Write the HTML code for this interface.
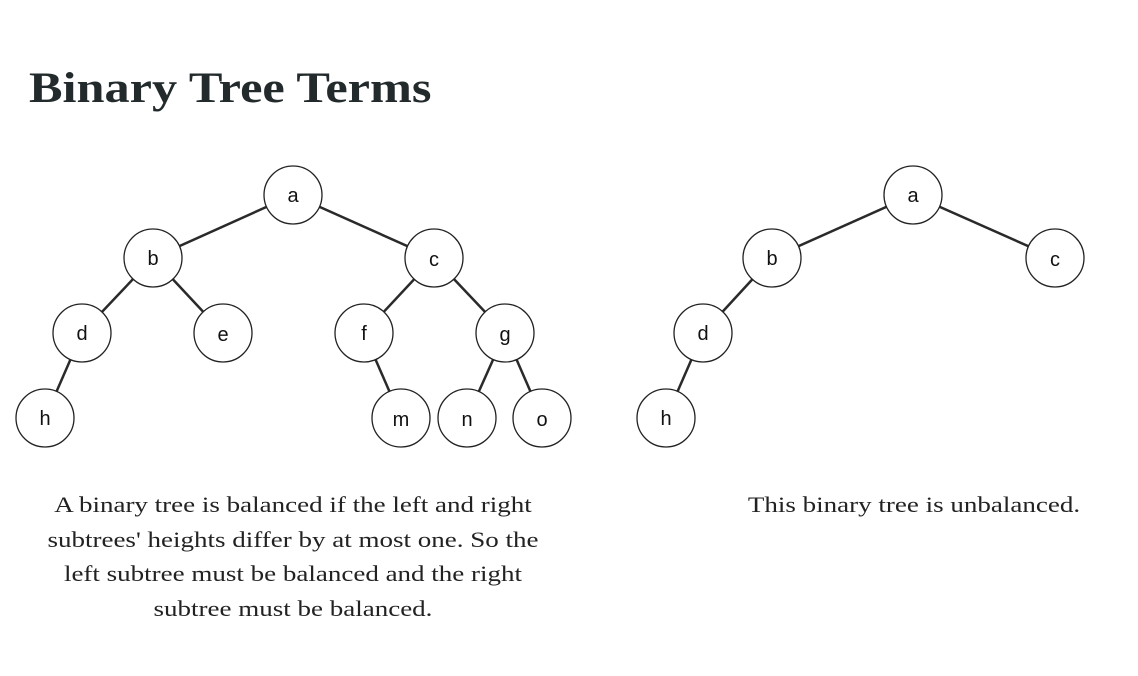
<!DOCTYPE html>
<html><head><style>
body{margin:0;width:1138px;height:676px;background:#fff;overflow:hidden;position:relative;font-family:"Liberation Serif",serif;}
h1{position:absolute;left:29px;top:64px;margin:0;font-size:43px;font-weight:bold;color:#222a2c;transform:scaleX(1.17);transform-origin:0 0;white-space:nowrap;}
.p{position:absolute;font-size:22.5px;line-height:34.5px;color:#222;text-align:center;transform:scaleX(1.2);white-space:nowrap;}
</style></head><body>
<h1>Binary Tree Terms</h1>
<svg width="1138" height="676" style="position:absolute;left:0;top:0">
<g stroke="#2a2a2a" stroke-width="2.5">
<line x1="293" y1="195" x2="153" y2="258"/><line x1="293" y1="195" x2="434" y2="258"/>
<line x1="153" y1="258" x2="82" y2="333"/><line x1="153" y1="258" x2="223" y2="333"/>
<line x1="434" y1="258" x2="364" y2="333"/><line x1="434" y1="258" x2="505" y2="333"/>
<line x1="82" y1="333" x2="45" y2="418"/><line x1="364" y1="333" x2="401" y2="418"/>
<line x1="505" y1="333" x2="467" y2="418"/><line x1="505" y1="333" x2="542" y2="418"/>
<line x1="913" y1="195" x2="772" y2="258"/><line x1="913" y1="195" x2="1055" y2="258"/>
<line x1="772" y1="258" x2="703" y2="333"/><line x1="703" y1="333" x2="666" y2="418"/>
</g>
<g fill="#fff" stroke="#222" stroke-width="1.3">
<circle cx="293" cy="195" r="29"/><circle cx="153" cy="258" r="29"/><circle cx="434" cy="258" r="29"/>
<circle cx="82" cy="333" r="29"/><circle cx="223" cy="333" r="29"/><circle cx="364" cy="333" r="29"/><circle cx="505" cy="333" r="29"/>
<circle cx="45" cy="418" r="29"/><circle cx="401" cy="418" r="29"/><circle cx="467" cy="418" r="29"/><circle cx="542" cy="418" r="29"/>
<circle cx="913" cy="195" r="29"/><circle cx="772" cy="258" r="29"/><circle cx="1055" cy="258" r="29"/>
<circle cx="703" cy="333" r="29"/><circle cx="666" cy="418" r="29"/>
</g>
<g font-family="Liberation Sans, sans-serif" font-size="20" fill="#111" text-anchor="middle" dominant-baseline="central">
<text x="293" y="196">a</text><text x="153" y="259">b</text><text x="434" y="260">c</text>
<text x="82" y="334">d</text><text x="223" y="335">e</text><text x="364" y="334">f</text><text x="505" y="335">g</text>
<text x="45" y="419">h</text><text x="401" y="420">m</text><text x="467" y="420">n</text><text x="542" y="420">o</text>
<text x="913" y="196">a</text><text x="772" y="259">b</text><text x="1055" y="260">c</text>
<text x="703" y="334">d</text><text x="666" y="419">h</text>
</g>
</svg>
<div class="p" style="left:33px;width:520px;top:488px;">A binary tree is balanced if the left and right<br>subtrees' heights differ by at most one. So the<br>left subtree must be balanced and the right<br>subtree must be balanced.</div>
<div class="p" style="left:694px;width:440px;top:488px;">This binary tree is unbalanced.</div>
</body></html>
